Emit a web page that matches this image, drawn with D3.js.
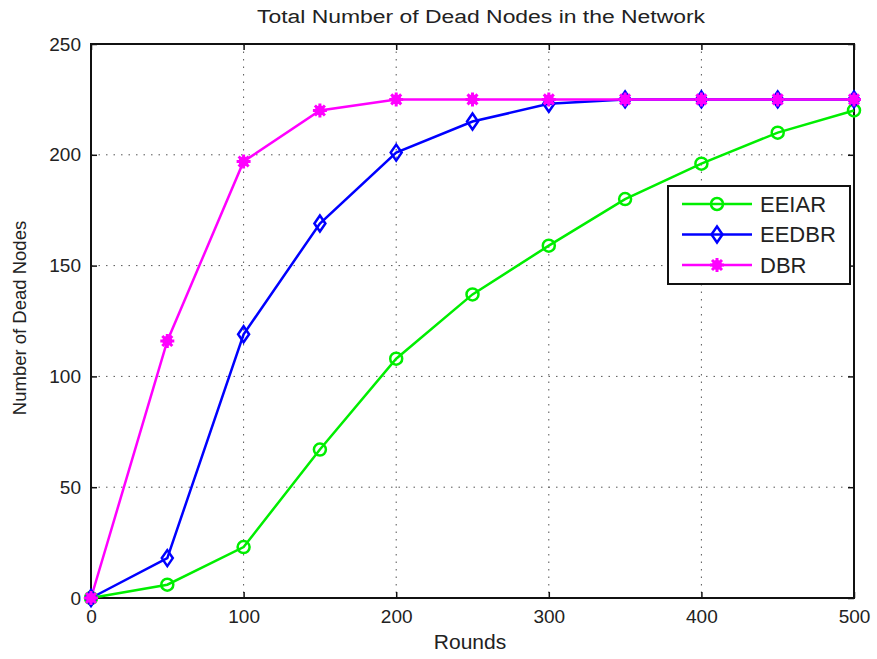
<!DOCTYPE html>
<html><head><meta charset="utf-8">
<script src="https://cdn.jsdelivr.net/npm/d3@7"></script>
<style>body{margin:0;background:#fff}svg{display:block}</style>
</head><body>
<svg id="c" width="877" height="659"></svg>
<script>
const rounds = [0,50,100,150,200,250,300,350,400,450,500];
const eeiar = [0,6,23,67,108,137,159,180,196,210,220];
const eedbr = [0,18,119,169,201,215,223,225,225,225,225];
const dbr   = [0,116,197,220,225,225,225,225,225,225,225];
const seriesNames = ["EEIAR","EEDBR","DBR"];
const xTicks = [0,100,200,300,400,500];
const yTicks = [0,50,100,150,200,250];

const svg = d3.select("#c");
const L=91, R=854, T=44, B=598;
const x = d3.scaleLinear().domain([0,500]).range([L,R]);
const y = d3.scaleLinear().domain([0,250]).range([B,T]);
const font = "'Liberation Sans', Arial, sans-serif";

// grid
const g = svg.append("g");
g.selectAll(".gx").data(xTicks.slice(1,-1)).join("line")
  .attr("x1",d=>x(d)).attr("x2",d=>x(d)).attr("y1",T).attr("y2",B)
  .attr("stroke","#555").attr("stroke-width",1).attr("stroke-dasharray","1.5,6");
g.selectAll(".gy").data(yTicks.slice(1,-1)).join("line")
  .attr("y1",d=>y(d)).attr("y2",d=>y(d)).attr("x1",L).attr("x2",R)
  .attr("stroke","#555").attr("stroke-width",1).attr("stroke-dasharray","1.5,6");

// axes
const xa = svg.append("g").attr("transform",`translate(0,${B})`)
  .call(d3.axisBottom(x).tickValues(xTicks).tickSize(-6).tickPadding(12));
const xt = svg.append("g").attr("transform",`translate(0,${T})`)
  .call(d3.axisTop(x).tickValues(xTicks).tickSize(-6).tickFormat(""));
const ya = svg.append("g").attr("transform",`translate(${L},0)`)
  .call(d3.axisLeft(y).tickValues(yTicks).tickSize(-6).tickPadding(10));
const yr = svg.append("g").attr("transform",`translate(${R},0)`)
  .call(d3.axisRight(y).tickValues(yTicks).tickSize(-6).tickFormat(""));
[xa,xt,ya,yr].forEach(a=>{
  a.select(".domain").remove();
  a.selectAll(".tick line").attr("stroke","#111").attr("stroke-width",1.5);
  a.selectAll("text").attr("font-family",font).attr("font-size",19).attr("fill","#222");
});
svg.append("rect").attr("x",L).attr("y",T).attr("width",R-L).attr("height",B-T)
  .attr("fill","none").attr("stroke","#111").attr("stroke-width",2);

// series
const data = [
  {name:seriesNames[0], vals:eeiar, color:"#00ee00", marker:"circle"},
  {name:seriesNames[1], vals:eedbr, color:"#0000ff", marker:"diamond"},
  {name:seriesNames[2], vals:dbr,   color:"#ff00ff", marker:"star"}
];
const line = d3.line().x((d,i)=>x(rounds[i])).y(d=>y(d));

function drawMarker(sel, type, color){
  if(type==="circle"){
    sel.append("circle").attr("r",6).attr("fill","none").attr("stroke",color).attr("stroke-width",2.5);
  } else if(type==="diamond"){
    sel.append("path").attr("d","M0,-8L5.5,0L0,8L-5.5,0Z").attr("fill","none").attr("stroke",color).attr("stroke-width",2.5);
  } else {
    sel.append("circle").attr("r",5).attr("fill",color);
    sel.append("path").attr("d","M-7,0H7M0,-7V7M-5,-5L5,5M-5,5L5,-5").attr("stroke",color).attr("stroke-width",3);
  }
}

data.forEach(s=>{
  svg.append("path").datum(s.vals).attr("d",line).attr("fill","none")
    .attr("stroke",s.color).attr("stroke-width",2.5);
});
data.forEach(s=>{
  s.vals.forEach((v,i)=>{
    const m = svg.append("g").attr("transform",`translate(${x(rounds[i])},${y(v)})`);
    drawMarker(m,s.marker,s.color);
  });
});

// legend
const lg = svg.append("g");
lg.append("rect").attr("x",668).attr("y",186).attr("width",182).attr("height",98)
  .attr("fill","#fff").attr("stroke","#111").attr("stroke-width",2);
data.forEach((s,i)=>{
  const yy = 204 + i*30.5;
  lg.append("line").attr("x1",682).attr("x2",752).attr("y1",yy).attr("y2",yy)
    .attr("stroke",s.color).attr("stroke-width",2.5);
  const m = lg.append("g").attr("transform",`translate(717,${yy})`);
  drawMarker(m,s.marker,s.color);
  lg.append("text").attr("x",760).attr("y",yy+7.5).text(s.name)
    .attr("font-family",font).attr("font-size",22).attr("fill","#222");
});

// titles
svg.append("text").attr("x",481).attr("y",23).attr("text-anchor","middle")
  .attr("font-family",font).attr("font-size",18).attr("fill","#222")
  .attr("textLength",448).attr("lengthAdjust","spacingAndGlyphs")
  .text("Total Number of Dead Nodes in the Network");
svg.append("text").attr("x",470).attr("y",649).attr("text-anchor","middle")
  .attr("font-family",font).attr("font-size",21).attr("fill","#222").text("Rounds");
svg.append("text").attr("transform","translate(26,318) rotate(-90)").attr("text-anchor","middle")
  .attr("font-family",font).attr("font-size",18.5).attr("fill","#222").text("Number of Dead Nodes");
</script>
</body></html>
